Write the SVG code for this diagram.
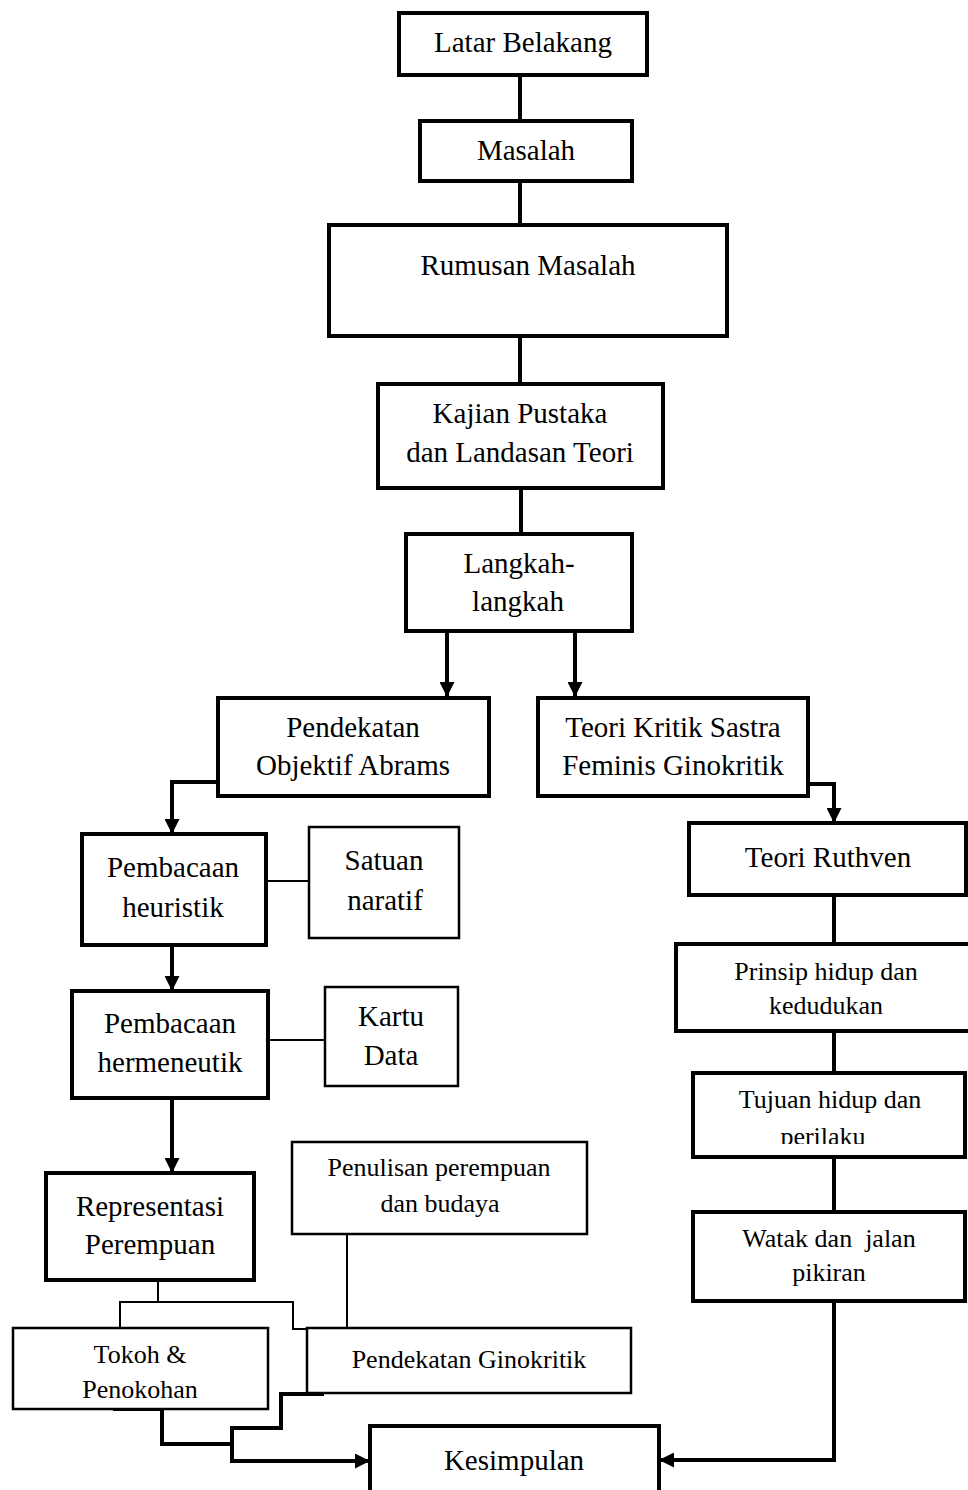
<svg xmlns="http://www.w3.org/2000/svg" width="968" height="1490" viewBox="0 0 968 1490">
<style>
  .box { fill: #fff; stroke: #000; stroke-width: 4; }
  .thin { fill: #fff; stroke: #000; stroke-width: 2.5; }
  .t { font-family: "Liberation Serif", "Times New Roman", serif; font-size: 29px; fill: #000; text-anchor: middle; }
  .s { font-family: "Liberation Serif", "Times New Roman", serif; font-size: 26px; fill: #000; text-anchor: middle; }
  .c { fill: none; stroke: #000; stroke-width: 4; }
  .cthin { fill: none; stroke: #000; stroke-width: 2; }
  .arr { marker-end: url(#ah); }
</style>
<defs>
  <marker id="ah" viewBox="0 0 14 14" refX="14" refY="7" markerWidth="15" markerHeight="15" markerUnits="userSpaceOnUse" orient="auto">
    <path d="M0,0 L14,7 L0,14 z" fill="#000"/>
  </marker>
  <clipPath id="clipTujuan"><rect x="693" y="1073" width="272" height="71"/></clipPath>
</defs>
<rect width="968" height="1490" fill="#fff"/>

<g id="connectors">
  <path class="c" d="M520,75 V121"/>
  <path class="c" d="M520,181 V224"/>
  <path class="c" d="M520,336 V384"/>
  <path class="c" d="M521,488 V533"/>
  <path class="c arr" d="M447,631 V697"/>
  <path class="c arr" d="M575,631 V697"/>
  <path class="c arr" d="M218,782 H172 V834"/>
  <path class="c arr" d="M808,784 H834 V823"/>
  <path class="cthin" d="M266,881 H309"/>
  <path class="c arr" d="M172,945 V991"/>
  <path class="cthin" d="M268,1040 H325"/>
  <path class="c arr" d="M172,1098 V1173"/>
  <path class="c" d="M834,895 V944"/>
  <path class="c" d="M834,1031 V1073"/>
  <path class="c" d="M834,1157 V1212"/>
  <path class="c arr" d="M834,1301 V1460 H659"/>
  <path class="cthin" d="M158,1280 V1302 H120 V1328"/>
  <path class="cthin" d="M158,1302 H293 V1329 H307"/>
  <path class="cthin" d="M347,1234 V1328"/>
  <path class="c" d="M113,1409 H162 V1444 H232"/>
  <path class="c arr" d="M324,1394 H281 V1428 H232 V1461 H370"/>
</g>

<g id="latar">
  <rect class="box" x="399" y="13" width="248" height="62"/>
  <text class="t" x="523" y="52">Latar Belakang</text>
</g>
<g id="masalah">
  <rect class="box" x="420" y="121" width="212" height="60"/>
  <text class="t" x="526" y="160">Masalah</text>
</g>
<g id="rumusan">
  <rect class="box" x="329" y="225" width="398" height="111"/>
  <text class="t" x="528" y="275">Rumusan Masalah</text>
</g>
<g id="kajian">
  <rect class="box" x="378" y="384" width="285" height="104"/>
  <text class="t" x="520" y="423">Kajian Pustaka</text>
  <text class="t" x="520" y="462">dan Landasan Teori</text>
</g>
<g id="langkah">
  <rect class="box" x="406" y="534" width="226" height="97"/>
  <text class="t" x="519" y="573">Langkah-</text>
  <text class="t" x="518" y="611">langkah</text>
</g>
<g id="objektif">
  <rect class="box" x="218" y="698" width="271" height="98"/>
  <text class="t" x="353" y="737">Pendekatan</text>
  <text class="t" x="353" y="775">Objektif Abrams</text>
</g>
<g id="teorikritik">
  <rect class="box" x="538" y="698" width="270" height="98"/>
  <text class="t" x="673" y="737">Teori Kritik Sastra</text>
  <text class="t" x="673" y="775">Feminis Ginokritik</text>
</g>
<g id="ruthven">
  <rect class="box" x="689" y="823" width="277" height="72"/>
  <text class="t" x="828" y="867">Teori Ruthven</text>
</g>
<g id="heuristik">
  <rect class="box" x="82" y="834" width="184" height="111"/>
  <text class="t" x="173" y="877">Pembacaan</text>
  <text class="t" x="173" y="917">heuristik</text>
</g>
<g id="satuan">
  <rect class="thin" x="309" y="827" width="150" height="111"/>
  <text class="t" x="384" y="870">Satuan</text>
  <text class="t" x="385" y="910">naratif</text>
</g>
<g id="prinsip">
  <rect class="box" x="676" y="944" width="300" height="87"/>
  <text class="s" x="826" y="980">Prinsip hidup dan</text>
  <text class="s" x="826" y="1014">kedudukan</text>
</g>
<g id="hermeneutik">
  <rect class="box" x="72" y="991" width="196" height="107"/>
  <text class="t" x="170" y="1033">Pembacaan</text>
  <text class="t" x="170" y="1072">hermeneutik</text>
</g>
<g id="kartu">
  <rect class="thin" x="325" y="987" width="133" height="99"/>
  <text class="t" x="391" y="1026">Kartu</text>
  <text class="t" x="391" y="1065">Data</text>
</g>
<g id="tujuan">
  <rect class="box" x="693" y="1073" width="272" height="84"/>
  <text class="s" x="830" y="1108">Tujuan hidup dan</text>
  <text class="s" x="823" y="1145" clip-path="url(#clipTujuan)">perilaku</text>
</g>
<g id="penulisan">
  <rect class="thin" x="292" y="1142" width="295" height="92"/>
  <text class="s" x="439" y="1176">Penulisan perempuan</text>
  <text class="s" x="440" y="1212">dan budaya</text>
</g>
<g id="representasi">
  <rect class="box" x="46" y="1173" width="208" height="107"/>
  <text class="t" x="150" y="1216">Representasi</text>
  <text class="t" x="150" y="1254">Perempuan</text>
</g>
<g id="watak">
  <rect class="box" x="693" y="1212" width="272" height="89"/>
  <text class="s" x="829" y="1247" style="white-space:pre">Watak dan  jalan</text>
  <text class="s" x="829" y="1281">pikiran</text>
</g>
<g id="tokoh">
  <rect class="thin" x="13" y="1328" width="255" height="81"/>
  <text class="s" x="140" y="1363">Tokoh &amp;</text>
  <text class="s" x="140" y="1398">Penokohan</text>
</g>
<g id="ginokritik">
  <rect class="thin" x="307" y="1328" width="324" height="65"/>
  <text class="s" x="469" y="1368">Pendekatan Ginokritik</text>
</g>
<g id="kesimpulan">
  <rect class="box" x="370" y="1426" width="289" height="80"/>
  <text class="t" x="514" y="1470">Kesimpulan</text>
</g>
</svg>
